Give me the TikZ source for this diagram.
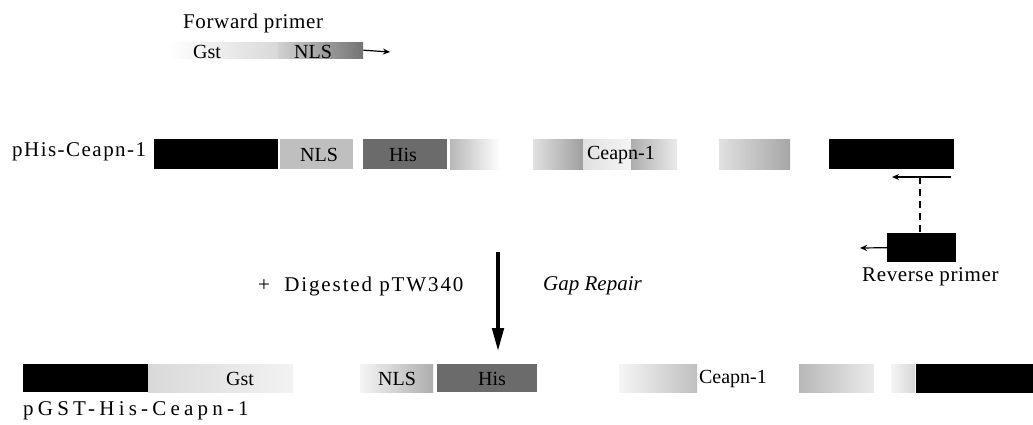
\documentclass[tikz,border=0pt]{standalone}
\usepackage{fontspec}
\setmainfont{Liberation Serif}
\usetikzlibrary{arrows.meta}
\begin{document}
\begin{tikzpicture}[x=1pt,y=-1pt,
  lbl/.style={font=\fontsize{20}{24}\selectfont, inner sep=0pt},
  spaced/.style={inner sep=0pt, font=\fontsize{21}{25}\selectfont\addfontfeatures{LetterSpace=#1}},
  blackbox/.style={fill=black, draw=none, inner sep=0pt, anchor=north west},
  seg/.style={draw=none, inner sep=0pt, anchor=north west},
  thinarrow/.style={-{Stealth[length=7pt,width=6pt]}, line width=1.2pt},
  bigarrow/.style={line width=4.5pt, -{Triangle[length=24pt,width=11pt]}},
]
\useasboundingbox[fill=white] (0,0) rectangle (1033,425);

% ---- Row 1: forward primer
\node[spaced=3, anchor=west] (fwdlbl) at (183,23) {Forward primer};
\node[seg, minimum width=110pt, minimum height=16pt, left color=white, right color=black!15] (p1a) at (168,42) {};
\node[seg, minimum width=85pt, minimum height=16pt, left color=black!18, right color=black!55] (p1b) at (278,42) {};
\node[lbl] (p1gst) at (207,52) {Gst};
\node[lbl] (p1nls) at (313,52) {NLS};
\coordinate (p1end) at (390,52);
\draw[thinarrow] (p1b.east) -- (p1end);

% ---- Row 2: pHis-Ceapn-1
\node[spaced=7, anchor=west] (r2lbl) at (12,152) {pHis-Ceapn-1};
\node[blackbox, minimum width=124pt, minimum height=30pt] (r2a) at (154,139) {};
\node[seg, minimum width=73pt, minimum height=30pt, fill=black!25] (r2nls) at (280,139) {};
\node[lbl] (r2nlst) at (319,155) {NLS};
\node[seg, minimum width=84pt, minimum height=30pt, fill=black!58] (r2his) at (363,139) {};
\node[lbl] (r2hist) at (403,155) {His};
\node[seg, minimum width=50pt, minimum height=30pt, left color=black!28, right color=white] (r2g1) at (450,139) {};
\node[seg, minimum width=50pt, minimum height=30pt, left color=black!12, right color=black!38] (r2g2) at (533,139) {};
\node[seg, minimum width=48pt, minimum height=30pt, left color=black!12, right color=black!4] (r2g3) at (583,139) {};
\node[seg, minimum width=46pt, minimum height=30pt, left color=black!32, right color=black!8] (r2g4) at (631,139) {};
\node[seg, minimum width=71pt, minimum height=30pt, left color=black!12, right color=black!35] (r2g5) at (719,139) {};
\node[lbl] (r2ceap) at (621,155) {Ceapn-1};
\node[blackbox, minimum width=125pt, minimum height=30pt] (r2b) at (829,139) {};

% ---- Reverse primer
\coordinate (rvstart) at (951,177);
\coordinate (rvend) at (892,177);
\draw[thinarrow] (rvstart) -- (rvend);
\coordinate (rvmid) at (920,177);
\node[blackbox, minimum width=69pt, minimum height=29pt] (rvbox) at (887,233) {};
\draw[line width=1.2pt, dash pattern=on 7pt off 5pt] (rvmid) -- (rvmid |- rvbox.north);
\coordinate (rvtip) at (860,248);
\draw[thinarrow] (rvbox.west) -- (rvtip);
\node[spaced=3, anchor=north west] (rvlbl) at (862,267) {Reverse primer};

% ---- Gap repair arrow
\coordinate (gtop) at (498,252);
\coordinate (gbot) at (498,352);
\draw[bigarrow] (gtop) -- (gbot);
\node[spaced=9, anchor=west] (digest) at (258,286) {+\ \ Digested pTW340};
\node[anchor=west, inner sep=0pt, font=\fontsize{21}{25}\selectfont\itshape] (gap) at (543,286) {Gap Repair};

% ---- Row 3: pGST-His-Ceapn-1
\node[blackbox, minimum width=125pt, minimum height=28pt] (r3a) at (23,364) {};
\node[seg, minimum width=145pt, minimum height=28pt, left color=black!15, right color=black!5] (r3g1) at (148,364) {};
\node[lbl] (r3gst) at (240,379) {Gst};
\node[seg, minimum width=73pt, minimum height=28pt, left color=black!4, right color=black!32] (r3g2) at (360,364) {};
\node[lbl] (r3nls) at (397,379) {NLS};
\node[seg, minimum width=100pt, minimum height=28pt, fill=black!58] (r3his) at (437,364) {};
\node[lbl] (r3hist) at (492,379) {His};
\node[seg, minimum width=78pt, minimum height=28pt, left color=black!4, right color=black!25] (r3g3) at (619,364) {};
\node[lbl] (r3ceap) at (733,379) {Ceapn-1};
\node[seg, minimum width=75pt, minimum height=28pt, left color=black!28, right color=black!8] (r3g4) at (799,364) {};
\node[seg, minimum width=24pt, minimum height=28pt, left color=black!4, right color=black!16] (r3g5) at (891,364) {};
\node[blackbox, minimum width=117pt, minimum height=29pt] (r3b) at (916,364) {};
\node[spaced=20, anchor=west] (r3lbl) at (23,411) {pGST-His-Ceapn-1};
\end{tikzpicture}
\end{document}
